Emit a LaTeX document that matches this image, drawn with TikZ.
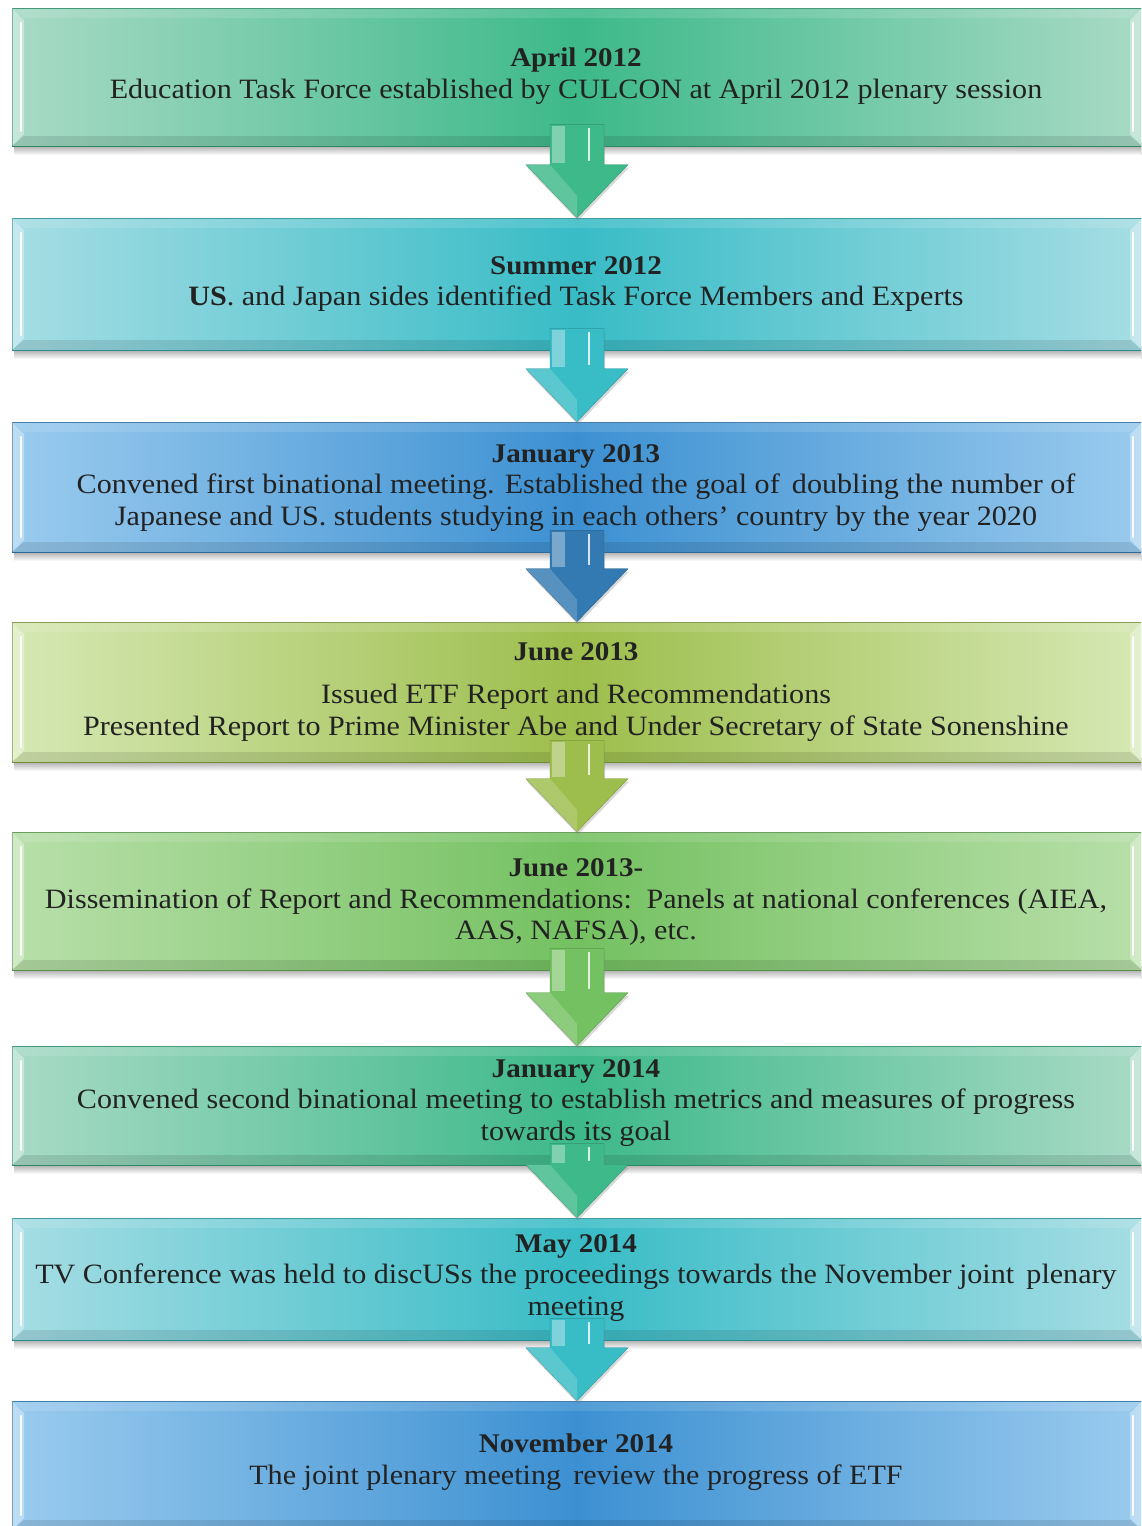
\documentclass[tikz,border=0pt]{standalone}
\usepackage{fontspec}
\setmainfont{Liberation Serif}[FakeStretch=1.075]
\usetikzlibrary{calc,shadows}
\definecolor{txt}{HTML}{222222}
\definecolor{gA}{HTML}{3DB98A}\definecolor{gApale}{HTML}{A8DAC6}
\definecolor{cA}{HTML}{38BCC6}\definecolor{cApale}{HTML}{A6DDE4}
\definecolor{bA}{HTML}{3C90D2}\definecolor{bApale}{HTML}{9ACBEE}
\definecolor{yA}{HTML}{9DBE4C}\definecolor{yApale}{HTML}{D6E8B4}
\definecolor{lA}{HTML}{74C161}\definecolor{lApale}{HTML}{B8DFA9}
\newcommand\tltitle[1]{{\fontsize{27}{31.5}\selectfont\textbf{#1}}}
\tikzset{
  tlrect/.style={rectangle, inner sep=0pt, minimum width=1130pt, draw=#1!75!black, line width=0.6pt},
  tltext/.style={inner sep=0pt, align=center, text=txt, font=\fontsize{28}{31.5}\selectfont},
}
% name, top, bottom, pale, mid
\newcommand\tlbox[5]{%
  \fill[top color=black!45, bottom color=white] (14,{#3-4}) rectangle (1150,{#3+9});
  \node[tlrect=#5, left color=#4, right color=#4, middle color=#5, minimum height={#3-#2}] (#1) at (577,{(#2+#3)/2}) {};
  \fill[white, opacity=0.35] (12,#2) -- (24,{#2+12}) -- (24,{#3-12}) -- (12,#3) -- cycle;
  \fill[white, opacity=0.35] (1142,#2) -- (1130,{#2+12}) -- (1130,{#3-12}) -- (1142,#3) -- cycle;
  \fill[black, opacity=0.10] (12,#3) -- (24,{#3-10}) -- (1130,{#3-10}) -- (1142,#3) -- cycle;
  \fill[white, opacity=0.12] (12,#2) -- (24,{#2+10}) -- (1130,{#2+10}) -- (1142,#2) -- cycle;
  \draw[white, opacity=0.9, line width=2.5pt, line cap=round] (21,{#2+15}) -- (21,{#3-15});
  \draw[white, opacity=0.9, line width=2.5pt, line cap=round] (1133,{#2+15}) -- (1133,{#3-15});
}
% from, to, colour
\newcommand\tlarrow[3]{%
  \path[fill=#3, draw=#3!80!black, line width=0.4pt,
        drop shadow={shadow xshift=1pt, shadow yshift=-3pt, opacity=0.3}]
    let \p1=(#1.south), \p2=(#2.north) in
    (\x1-27pt,\y1+22pt) -- (\x1+27pt,\y1+22pt) -- (\x1+27pt,\y2+53pt) -- (\x1+51pt,\y2+53pt)
    -- (\x1,\y2) -- (\x1-51pt,\y2+53pt) -- (\x1-27pt,\y2+53pt) -- cycle;
  \path[fill=white, opacity=0.35]
    let \p1=(#1.south), \p2=(#2.north) in
    (\x1-25pt,\y1+20pt) rectangle (\x1-12pt,\y2+55pt);
  \path[draw=white, opacity=0.8, line width=2pt]
    let \p1=(#1.south), \p2=(#2.north) in
    (\x1+12pt,\y1+18pt) -- (\x1+12pt,\y2+57pt);
  \path[fill=white, opacity=0.18]
    let \p1=(#1.south), \p2=(#2.north) in
    (\x1-51pt,\y2+53pt) -- (\x1-27pt,\y2+53pt) -- (\x1,\y2+22pt) -- (\x1,\y2) -- cycle;
}
\begin{document}
\begin{tikzpicture}[x=1pt, y=-1pt]
\useasboundingbox (0,0) rectangle (1141,1526);
\clip (0,0) rectangle (1141,1526);
\fill[white] (0,0) rectangle (1141,1526);

\tlbox{b1}{8}{146}{gApale}{gA}
\tlbox{b2}{218}{350}{cApale}{cA}
\tlbox{b3}{422}{552}{bApale}{bA}
\tlbox{b4}{622}{762}{yApale}{yA}
\tlbox{b5}{832}{970}{lApale}{lA}
\tlbox{b6}{1046}{1165}{gApale}{gA}
\tlbox{b7}{1218}{1340}{cApale}{cA}
\tlbox{b8}{1401}{1530}{bApale}{bA}

\tlarrow{b1}{b2}{gA}
\tlarrow{b2}{b3}{cA}
\tlarrow{b3}{b4}{bA!85!black}
\tlarrow{b4}{b5}{yA}
\tlarrow{b5}{b6}{lA}
\tlarrow{b6}{b7}{gA}
\tlarrow{b7}{b8}{cA}

\node[tltext] (t1) at (576,76) {\tltitle{April 2012}\\Education Task Force established by CULCON at April 2012 plenary session};
\node[tltext] (t2) at (576,284) {\tltitle{Summer 2012}\\\textbf{US}. and Japan sides identified Task Force Members and Experts};
\node[tltext] (t3) at (576,488) {\tltitle{January 2013}\\Convened first binational meeting. Established the goal of\, doubling the number of\\Japanese and US. students studying in each others' country by the year 2020};
\node[tltext] (t4) at (576,692) {\tltitle{June 2013}\\[12pt]Issued ETF Report and Recommendations\\Presented Report to Prime Minister Abe and Under Secretary of State Sonenshine};
\node[tltext] (t5) at (576,902) {\tltitle{June 2013-}\\Dissemination of Report and Recommendations:\, Panels at national conferences (AIEA,\\AAS, NAFSA), etc.};
\node[tltext] (t6) at (576,1103) {\tltitle{January 2014}\\Convened second binational meeting to establish metrics and measures of progress\\towards its goal};
\node[tltext] (t7) at (576,1278) {\tltitle{May 2014}\\TV Conference was held to discUSs the proceedings towards the November joint\, plenary\\meeting};
\node[tltext] (t8) at (576,1462) {\tltitle{November 2014}\\The joint plenary meeting\, review the progress of ETF};
\end{tikzpicture}
\end{document}
